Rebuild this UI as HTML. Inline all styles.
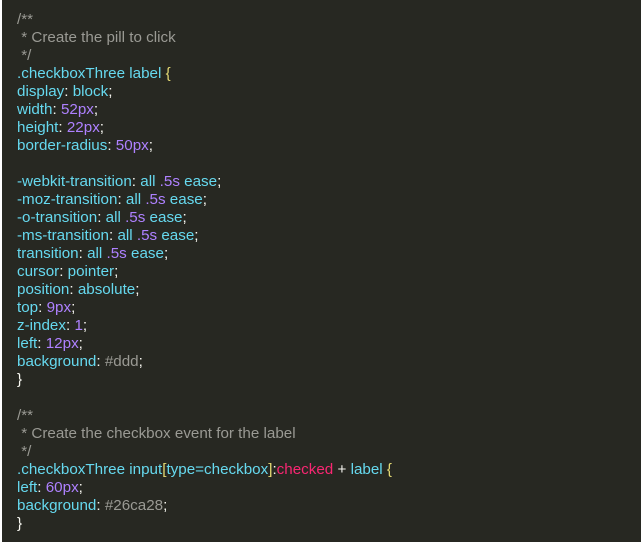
<!DOCTYPE html>
<html><head><style>
html,body{margin:0;padding:0;}
body{width:641px;height:542px;background:#fff;overflow:hidden;}
#c{position:absolute;left:2px;top:0;width:639px;height:542px;background:#272822;}
pre{margin:0;position:absolute;left:15px;top:11px;font-family:"Liberation Sans","Noto Sans CJK SC",sans-serif;font-size:15.2px;line-height:18px;color:#66d9ef;white-space:pre;letter-spacing:0px;}
.c{color:#9a9a94}.n{color:#ae81ff}.w{color:#f8f8f2}.y{color:#e6db74}.g{color:#9a9a94}.r{color:#f92672}
</style></head><body><div id="c"><pre><span class="c">/**
 * Create the pill to click
 */</span>
.checkboxThree label <span class="y">{</span>
display<span class="w">:</span> block<span class="w">;</span>
width<span class="w">:</span> <span class="n">52px</span><span class="w">;</span>
height<span class="w">:</span> <span class="n">22px</span><span class="w">;</span>
border-radius<span class="w">:</span> <span class="n">50px</span><span class="w">;</span>

-webkit-transition<span class="w">:</span> all <span class="n">.5s</span> ease<span class="w">;</span>
-moz-transition<span class="w">:</span> all <span class="n">.5s</span> ease<span class="w">;</span>
-o-transition<span class="w">:</span> all <span class="n">.5s</span> ease<span class="w">;</span>
-ms-transition<span class="w">:</span> all <span class="n">.5s</span> ease<span class="w">;</span>
transition<span class="w">:</span> all <span class="n">.5s</span> ease<span class="w">;</span>
cursor<span class="w">:</span> pointer<span class="w">;</span>
position<span class="w">:</span> absolute<span class="w">;</span>
top<span class="w">:</span> <span class="n">9px</span><span class="w">;</span>
z-index<span class="w">:</span> <span class="n">1</span><span class="w">;</span>
left<span class="w">:</span> <span class="n">12px</span><span class="w">;</span>
background<span class="w">:</span> <span class="g">#ddd</span><span class="w">;</span>
<span class="w">}</span>

<span class="c">/**
 * Create the checkbox event for the label
 */</span>
.checkboxThree input<span class="y">[</span>type=checkbox<span class="y">]</span><span class="w">:</span><span class="r">checked</span> <span class="w">+</span> label <span class="y">{</span>
left<span class="w">:</span> <span class="n">60px</span><span class="w">;</span>
background<span class="w">:</span> <span class="g">#26ca28</span><span class="w">;</span>
<span class="w">}</span></pre></div></body></html>
